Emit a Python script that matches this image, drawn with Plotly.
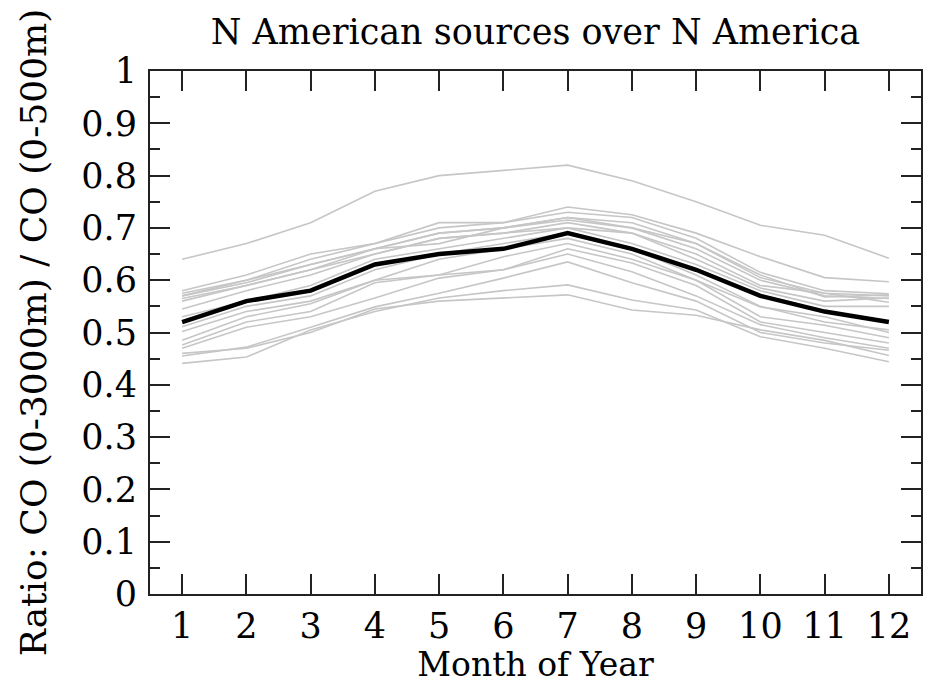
import plotly.graph_objects as go

months = list(range(1, 13))

# Individual model/member ratios (light grey) and the ensemble mean (black)
member_ratios = [
    [0.640, 0.670, 0.710, 0.770, 0.800, 0.810, 0.820, 0.790, 0.750, 0.705, 0.686, 0.642],
    [0.580, 0.610, 0.650, 0.670, 0.710, 0.710, 0.740, 0.725, 0.690, 0.645, 0.605, 0.597],
    [0.575, 0.600, 0.640, 0.670, 0.700, 0.710, 0.730, 0.720, 0.680, 0.615, 0.580, 0.574],
    [0.570, 0.600, 0.630, 0.660, 0.690, 0.700, 0.720, 0.710, 0.670, 0.605, 0.575, 0.570],
    [0.565, 0.590, 0.620, 0.660, 0.690, 0.700, 0.720, 0.700, 0.660, 0.600, 0.570, 0.565],
    [0.560, 0.590, 0.620, 0.650, 0.680, 0.690, 0.710, 0.690, 0.650, 0.590, 0.575, 0.558],
    [0.570, 0.595, 0.630, 0.660, 0.670, 0.700, 0.715, 0.700, 0.670, 0.610, 0.568, 0.572],
    [0.545, 0.580, 0.610, 0.650, 0.680, 0.690, 0.700, 0.690, 0.640, 0.585, 0.560, 0.566],
    [0.530, 0.560, 0.590, 0.640, 0.660, 0.680, 0.700, 0.670, 0.630, 0.580, 0.550, 0.550],
    [0.511, 0.550, 0.570, 0.620, 0.650, 0.670, 0.690, 0.660, 0.610, 0.550, 0.520, 0.505],
    [0.502, 0.540, 0.560, 0.600, 0.640, 0.660, 0.680, 0.650, 0.600, 0.530, 0.514, 0.490],
    [0.485, 0.530, 0.555, 0.600, 0.610, 0.645, 0.670, 0.640, 0.600, 0.549, 0.530, 0.500],
    [0.476, 0.520, 0.540, 0.595, 0.610, 0.620, 0.660, 0.633, 0.590, 0.520, 0.500, 0.480],
    [0.470, 0.510, 0.530, 0.566, 0.604, 0.620, 0.650, 0.616, 0.570, 0.515, 0.490, 0.470],
    [0.455, 0.472, 0.510, 0.549, 0.575, 0.604, 0.635, 0.595, 0.560, 0.500, 0.480, 0.466],
    [0.441, 0.453, 0.505, 0.540, 0.566, 0.580, 0.591, 0.562, 0.543, 0.492, 0.470, 0.444],
    [0.460, 0.470, 0.500, 0.545, 0.560, 0.566, 0.572, 0.543, 0.533, 0.505, 0.485, 0.456],
]

mean_ratio = [0.520, 0.560, 0.580, 0.630, 0.650, 0.660, 0.690, 0.660, 0.620, 0.570, 0.540, 0.520]

fig = go.Figure()

for series in member_ratios:
    fig.add_trace(go.Scatter(
        x=months, y=series, mode="lines",
        line=dict(color="#c6c6c6", width=1.6),
        hoverinfo="skip", showlegend=False,
    ))

fig.add_trace(go.Scatter(
    x=months, y=mean_ratio, mode="lines",
    line=dict(color="black", width=4.5),
    showlegend=False,
))

serif = "DejaVu Serif"

fig.update_layout(
    width=925, height=684,
    margin=dict(l=150, r=2, t=71, b=90),
    paper_bgcolor="white", plot_bgcolor="white",
    font=dict(family=serif, color="black", size=35),
    title=dict(
        text="N American sources over N America",
        x=0.5, xref="paper", xanchor="center",
        y=0.935, yref="container", yanchor="bottom",
        font=dict(family=serif, size=35),
    ),
    xaxis=dict(
        range=[0.5, 12.5],
        tickmode="array", tickvals=months, ticktext=[str(m) for m in months],
        ticks="inside", ticklen=20, tickwidth=2, tickcolor="#222",
        showline=True, linewidth=2, linecolor="#222", mirror="allticks",
        showgrid=False, zeroline=False,
        tickfont=dict(family=serif, size=35),
        title=dict(text="Month of Year", font=dict(family=serif, size=33), standoff=6),
    ),
    yaxis=dict(
        range=[0, 1],
        tickmode="array",
        tickvals=[0, 0.1, 0.2, 0.3, 0.4, 0.5, 0.6, 0.7, 0.8, 0.9, 1],
        ticktext=["0", "0.1", "0.2", "0.3", "0.4", "0.5", "0.6", "0.7", "0.8", "0.9", "1"],
        ticks="inside", ticklen=20, tickwidth=2, tickcolor="#222",
        minor=dict(dtick=0.05, tick0=0, ticks="inside", ticklen=10, tickwidth=2, tickcolor="#222"),
        showline=True, linewidth=2, linecolor="#222", mirror="allticks",
        showgrid=False, zeroline=False,
        tickfont=dict(family=serif, size=35),
        ticklabelstandoff=4,
        title=dict(text="Ratio: CO (0-3000m) / CO (0-500m)", font=dict(family=serif, size=36), standoff=24),
    ),
)

fig.write_html("out.html")
